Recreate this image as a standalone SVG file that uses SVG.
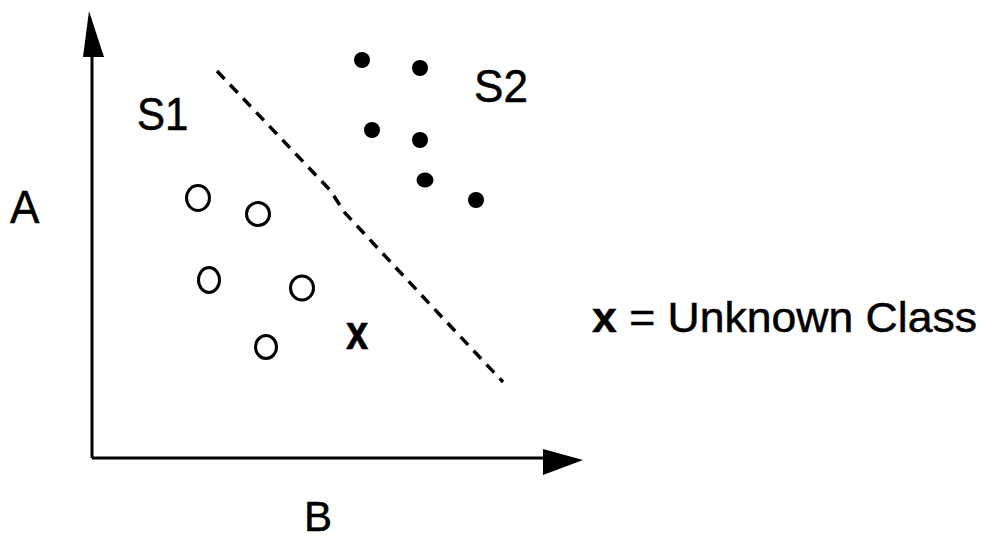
<svg xmlns="http://www.w3.org/2000/svg" width="987" height="537" viewBox="0 0 987 537">
<style>
text{font-family:"Liberation Sans",Arial,sans-serif;fill:#000;stroke:#000;stroke-width:0.5}
.lbl{font-size:42px}
.open{fill:none;stroke:#000;stroke-width:3}
.dot{fill:#000}
.axis{stroke:#000;stroke-width:3;fill:none}
</style>
<rect width="987" height="537" fill="#fff"/>
<g id="connectors">
<g id="axis-a">
<line class="axis" x1="92" y1="458" x2="92" y2="50"/>
<polygon points="89,11 104,57 83,57" fill="#000"/>
</g>
<g id="axis-b">
<line class="axis" x1="92" y1="458" x2="548" y2="458"/>
<polygon points="583,460 543,449 543,475" fill="#000"/>
</g>
<polyline id="boundary" points="217,71 330,190 345,213 440,315 503,382" fill="none" stroke="#000" stroke-width="3.5" stroke-dasharray="11,8"/>
</g>
<g id="label-A"><text class="lbl" transform="translate(10,223) scale(1.05,1.1)">A</text></g>
<g id="label-B"><text class="lbl" transform="translate(304,531)">B</text></g>
<g id="label-S1"><text class="lbl" transform="translate(137,130) scale(1,1.1)">S1</text></g>
<g id="label-S2"><text class="lbl" transform="translate(474,102) scale(1.05,1.1)">S2</text></g>
<g id="unknown-x"><text transform="translate(346,349) scale(1,1.2)" style="font-size:40px;font-weight:bold">x</text></g>
<g id="legend"><text class="lbl" x="592" y="332" textLength="385" lengthAdjust="spacingAndGlyphs"><tspan style="font-weight:bold">x</tspan> = Unknown Class</text></g>
<g id="S1-points">
<ellipse class="open" cx="198" cy="198" rx="11.5" ry="12.5"/>
<ellipse class="open" cx="258" cy="214" rx="11.5" ry="11.5"/>
<ellipse class="open" cx="209" cy="280" rx="10.5" ry="12.5"/>
<ellipse class="open" cx="302" cy="288" rx="11.5" ry="12"/>
<ellipse class="open" cx="266" cy="347" rx="10.5" ry="11.5"/>
</g>
<g id="S2-points">
<circle class="dot" cx="362" cy="60" r="8"/>
<circle class="dot" cx="420" cy="68" r="8"/>
<circle class="dot" cx="372" cy="130" r="8"/>
<circle class="dot" cx="420" cy="140" r="8"/>
<ellipse class="dot" cx="425" cy="180" rx="8.5" ry="7.5"/>
<circle class="dot" cx="476" cy="200" r="8"/>
</g>
</svg>
